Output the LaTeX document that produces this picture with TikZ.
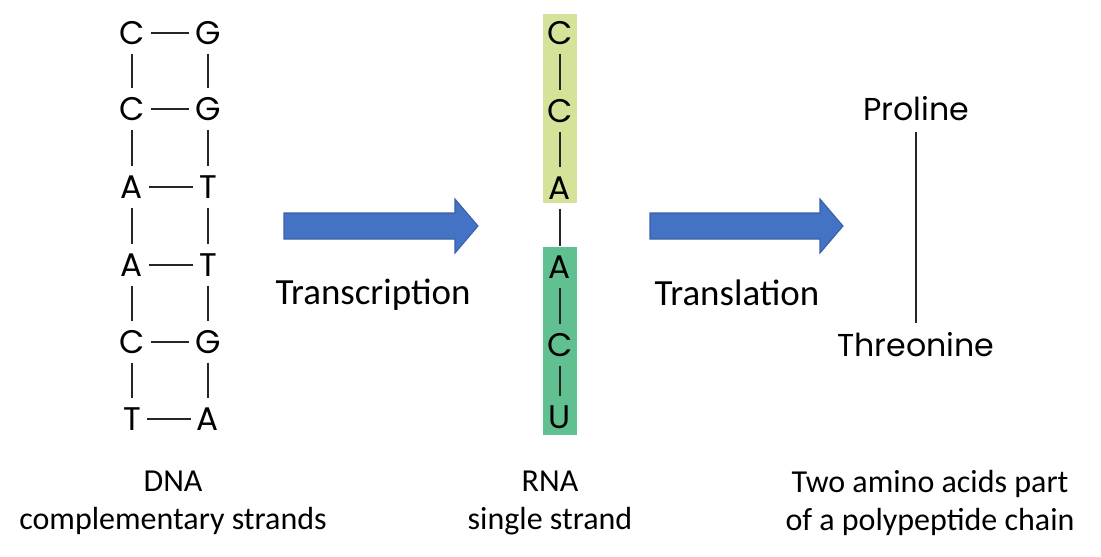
\documentclass[tikz,border=0pt]{standalone}
\usepackage{fontspec}
\newfontfamily\geofont{Poppins}
\newfontfamily\calfont{Carlito}
\definecolor{arrowblue}{HTML}{4472C4}
\definecolor{lightgreen}{HTML}{D4E29A}
\definecolor{darkgreen}{HTML}{60C090}
\begin{document}
\begin{tikzpicture}[x=0.01cm,y=-0.01cm,
  base/.style={font=\geofont\fontsize{9.3pt}{10pt}\selectfont, text height=6.5pt, text depth=0pt, inner ysep=2.4pt, inner xsep=1.6pt},
  bond/.style={line width=0.7pt, black!85},
  blockarrow/.style={fill=arrowblue, draw=arrowblue!85!black, line width=0.3pt},
  proc/.style={font=\calfont\fontsize{10.5pt}{12pt}\selectfont, inner sep=0pt},
  caption/.style={font=\calfont\fontsize{9.1pt}{10.8pt}\selectfont, inner sep=0pt, align=center},
  amino/.style={font=\geofont\fontsize{9pt}{10pt}\selectfont, text height=6.4pt, text depth=0pt, inner sep=3pt}]
\useasboundingbox (0,0) rectangle (1101,556);
% DNA
\foreach \i/\l/\r/\y in {1/C/G/33,2/C/G/109,3/A/T/187,4/A/T/265,5/C/G/342,6/T/A/419}{
  \node[base] (L\i) at (132,\y) {\l};
  \node[base] (R\i) at (208,\y) {\r};
  \draw[bond] (L\i) -- (R\i);
}
\foreach \i [evaluate=\i as \j using int(\i+1)] in {1,...,5}{
  \draw[bond] (L\i) -- (L\j);
  \draw[bond] (R\i) -- (R\j);
}
% RNA
\fill[lightgreen] (543,14) rectangle (577,203);
\fill[darkgreen] (543,247) rectangle (577,435);
\foreach \i/\l/\y in {1/C/33,2/C/111,3/A/188,4/A/267,5/C/345,6/U/417}{
  \node[base] (N\i) at (560,\y) {\l};
}
\foreach \i [evaluate=\i as \j using int(\i+1)] in {1,...,5}{
  \draw[bond] (N\i) -- (N\j);
}
% arrows
\fill[blockarrow] (284,213) -- (455,213) -- (455,199) -- (478,226) -- (455,253) -- (455,239) -- (284,239) -- cycle;
\fill[blockarrow] (650,213) -- (820,213) -- (820,199) -- (843,226) -- (820,253) -- (820,239) -- (650,239) -- cycle;
\node[proc] (tr) at (373,295) {Transcription};
\node[proc] (tl) at (737,293) {Translation};
% amino acids
\node[amino] (pro) at (916,109) {Proline};
\node[amino] (thr) at (916,345) {Threonine};
\draw[bond] (pro) -- (thr);
% captions
\node[caption] (c1) at (173,503) {DNA\\complementary strands};
\node[caption] (c2) at (550,503) {RNA\\single strand};
\node[caption] (c3) at (930,503) {Two amino acids part\\of a polypeptide chain};
\end{tikzpicture}
\end{document}
